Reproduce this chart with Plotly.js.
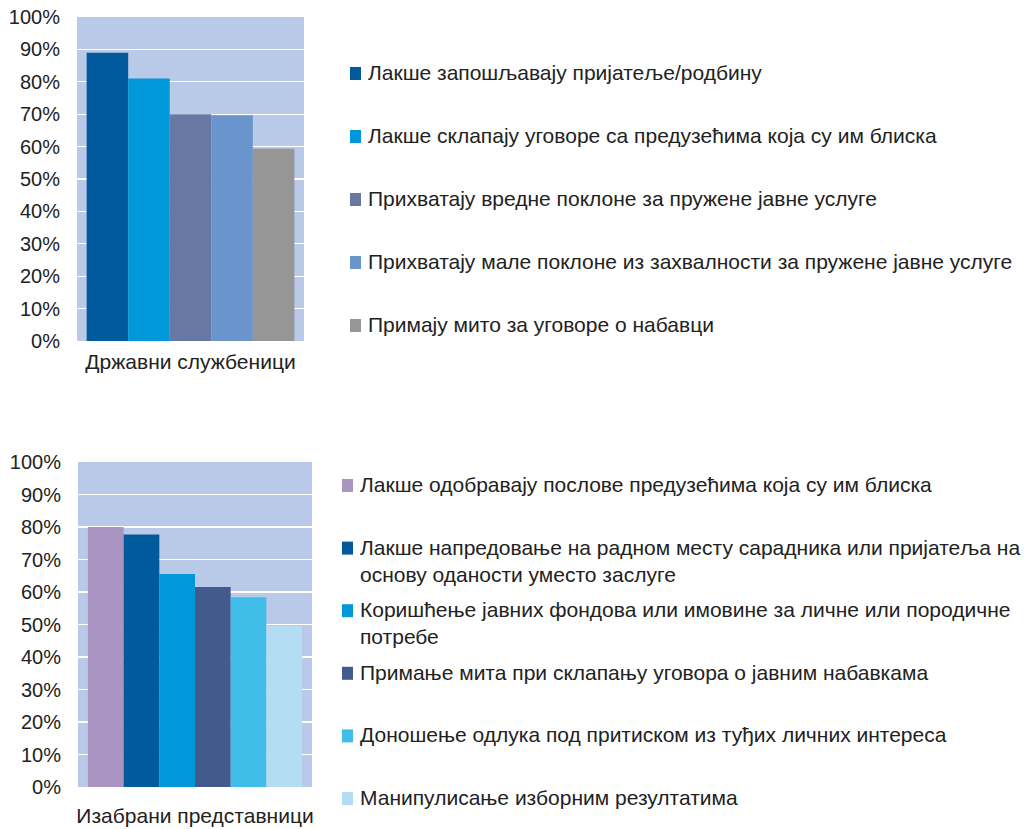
<!DOCTYPE html>
<html><head><meta charset="utf-8">
<script src="https://cdn.plot.ly/plotly-3.0.1.min.js"></script>
<style>body{margin:0;background:#fff}#chart{width:1030px;height:829px}</style>
</head><body><div id="chart"></div>
<script>
// ---- data ----
const category1 = ['Државни службеници'];
const names1 = [
  'Лакше запошљавају пријатеље/родбину',
  'Лакше склапају уговоре са предузећима која су им блиска',
  'Прихватају вредне поклоне за пружене јавне услуге',
  'Прихватају мале поклоне из захвалности за пружене јавне услуге',
  'Примају мито за уговоре о набавци'
];
const values1 = [0.89, 0.81, 0.70, 0.697, 0.593];
const colors1 = ['#005A9C', '#0098D8', '#6878A4', '#6A94CC', '#969696'];

const category2 = ['Изабрани представници'];
const names2 = [
  'Лакше одобравају послове предузећима која су им блиска',
  'Лакше напредовање на радном месту сарадника или пријатеља на<br>основу оданости уместо заслуге',
  'Коришћење јавних фондова или имовине за личне или породичне<br>потребе',
  'Примање мита при склапању уговора о јавним набавкама',
  'Доношење одлука под притиском из туђих личних интереса',
  'Манипулисање изборним резултатима'
];
const values2 = [0.80, 0.777, 0.655, 0.615, 0.584, 0.496];
const colors2 = ['#A994C2', '#005A9C', '#0098D8', '#435A8C', '#40BDE8', '#B4DCF2'];

const tickVals = [0, 0.1, 0.2, 0.3, 0.4, 0.5, 0.6, 0.7, 0.8, 0.9, 1.0];

// ---- layout helpers (pixels -> paper) ----
const W = 1030, H = 829;
const px = v => v / W;
const py = v => 1 - v / H;
const FONT = 'Liberation Sans, Arial, sans-serif';

const traces = [];
names1.forEach((n, i) => traces.push({
  type: 'bar', x: category1, y: [values1[i]], name: n,
  marker: {color: colors1[i]}, xaxis: 'x', yaxis: 'y', showlegend: false, hoverinfo: 'y+name'
}));
names2.forEach((n, i) => traces.push({
  type: 'bar', x: category2, y: [values2[i]], name: n,
  marker: {color: colors2[i]}, xaxis: 'x2', yaxis: 'y2', showlegend: false, hoverinfo: 'y+name'
}));

const annotations = [], shapes = [];
function addLegend(names, colors, keyX, textX, firstY, step) {
  names.forEach((n, i) => {
    const cy = firstY + i * step;
    shapes.push({type: 'rect', xref: 'paper', yref: 'paper',
      x0: px(keyX), x1: px(keyX + 11), y0: py(cy - 6), y1: py(cy + 7),
      fillcolor: colors[i], line: {width: 0}});
    annotations.push({xref: 'paper', yref: 'paper', x: px(textX), y: py(cy - 14),
      xanchor: 'left', yanchor: 'top', align: 'left', showarrow: false, text: n,
      font: {family: FONT, size: 21, color: '#222'}});
  });
}
addLegend(names1, colors1, 350, 366, 73, 63);
addLegend(names2, colors2, 342, 358, 485, 62.6);

const yax = {range: [0, 1], tickvals: tickVals, tickformat: '.0%', showgrid: true,
  gridcolor: '#ffffff', gridwidth: 1.3, zeroline: false, showline: false, ticks: '',
  ticklabelstandoff: 16, tickfont: {family: FONT, size: 20, color: '#222'}, fixedrange: true};
const xax = {showgrid: false, zeroline: false, showline: false, ticks: '',
  tickfont: {family: FONT, size: 21, color: '#222'}, fixedrange: true};

const layout = {
  width: W, height: H,
  margin: {l: 0, r: 0, t: 0, b: 0},
  paper_bgcolor: '#ffffff', plot_bgcolor: '#B9C9E8',
  barmode: 'group', bargap: 0.085, bargroupgap: 0,
  xaxis: Object.assign({}, xax, {domain: [px(77), px(304)], anchor: 'y', ticklabelstandoff: 6}),
  yaxis: Object.assign({}, yax, {domain: [py(341), py(17)], anchor: 'x'}),
  xaxis2: Object.assign({}, xax, {domain: [px(78), px(312)], anchor: 'y2', ticklabelstandoff: 14}),
  yaxis2: Object.assign({}, yax, {domain: [py(787), py(462)], anchor: 'x2'}),
  annotations: annotations, shapes: shapes,
  font: {family: FONT}
};
Plotly.newPlot('chart', traces, layout, {displayModeBar: false, staticPlot: true});
</script>
</body></html>
